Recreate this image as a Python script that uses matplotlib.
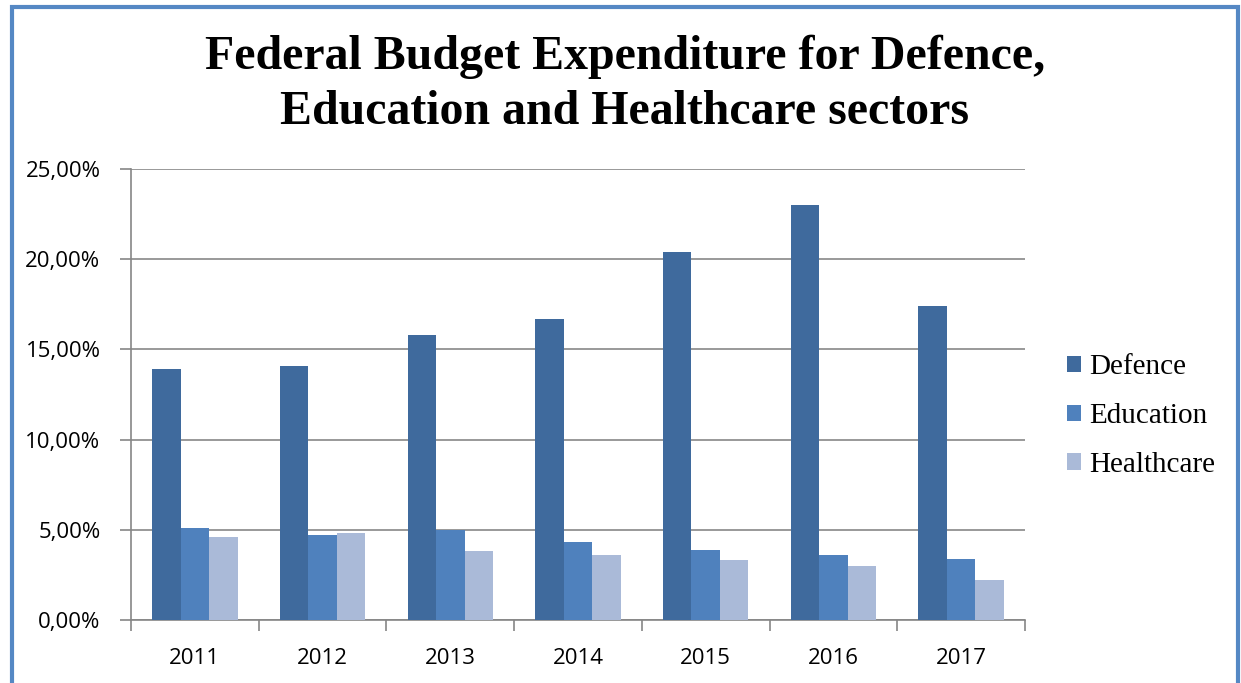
import numpy as np
import matplotlib.pyplot as plt
from matplotlib.patches import Rectangle
from matplotlib.ticker import FuncFormatter

# data (percent of federal budget)
years = ['2011', '2012', '2013', '2014', '2015', '2016', '2017']
defence = [13.9, 14.1, 15.8, 16.7, 20.4, 23.0, 17.4]
education = [5.1, 4.7, 5.0, 4.3, 3.9, 3.6, 3.4]
healthcare = [4.6, 4.8, 3.8, 3.6, 3.3, 3.0, 2.2]
series = ['Defence', 'Education', 'Healthcare']
colors = ['#3F6A9D', '#4F81BD', '#AABAD8']

fig = plt.figure(figsize=(12.41, 6.83), dpi=100)
ax = fig.add_axes([131/1241, 1 - 620/683, (1025 - 131)/1241, (620 - 169)/683])

x = np.arange(len(years))
w = 0.223
for i, (vals, name, c) in enumerate(zip([defence, education, healthcare], series, colors)):
    ax.bar(x + (i - 1) * w, vals, width=w, color=c, label=name, zorder=3)

ax.set_xlim(-0.5, len(years) - 0.5)
ax.set_ylim(0, 25)
ax.set_yticks(np.arange(0, 26, 5))
ax.yaxis.set_major_formatter(FuncFormatter(lambda v, p: f'{v:.2f}%'.replace('.', ',')))
ax.set_xticks(x)
ax.set_xticklabels(years)
ax.set_xticks(np.arange(-0.5, len(years)), minor=True)
ax.tick_params(axis='x', which='major', length=0, pad=20, labelsize=16)
ax.tick_params(axis='x', which='minor', length=8, color='#868686', width=1.2, direction='out')
ax.tick_params(axis='y', length=8, color='#868686', width=1.2, direction='out', pad=14, labelsize=16)
for lab in ax.get_xticklabels() + ax.get_yticklabels():
    lab.set_fontfamily('Open Sans')

ax.grid(axis='y', color='#878787', linewidth=1.2, zorder=0)
for s in ['top', 'right']:
    ax.spines[s].set_visible(False)
for s in ['left', 'bottom']:
    ax.spines[s].set_color('#868686')
    ax.spines[s].set_linewidth(1.2)

fig.suptitle('Federal Budget Expenditure for Defence,\nEducation and Healthcare sectors',
             x=625/1241, y=1 - 35/683, va='top', fontsize=34.5, fontweight='bold',
             family='Liberation Serif', linespacing=1.31)

ax.legend(loc='center left', bbox_to_anchor=(1067/1241, 1 - 416/683), bbox_transform=fig.transFigure,
          frameon=False, prop={'family': 'Liberation Serif', 'size': 21},
          borderpad=0, borderaxespad=0,
          handlelength=0.48, handleheight=0.48, handletextpad=0.28, labelspacing=0.78)

fig.patches.append(Rectangle((12/1241, -0.05), (1238 - 12)/1241, 1.05 - 7/683,
                             transform=fig.transFigure, fill=False, edgecolor='#5588C4', linewidth=3))

fig.savefig('out.png', dpi=100)
